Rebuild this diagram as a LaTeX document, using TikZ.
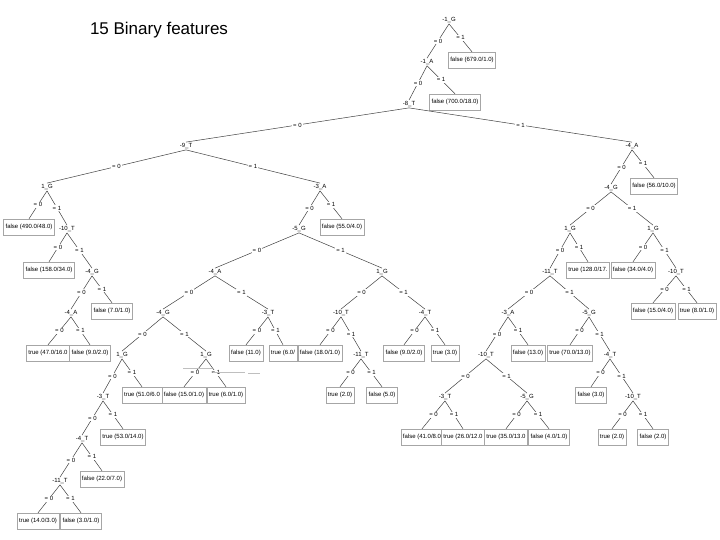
\documentclass[tikz,border=0pt]{standalone}
\usepackage{fontspec}
\setmainfont{Liberation Sans}
\begin{document}
\begin{tikzpicture}[x=1pt,y=-1pt,
  inner/.style={inner sep=1pt,font=\fontsize{6}{7}\selectfont},
  leaf/.style={draw=gray!70,inner xsep=2pt,minimum height=16pt,font=\fontsize{6}{7}\selectfont,fill=white},
  lbl/.style={fill=white,inner sep=1pt,font=\fontsize{6}{7}\selectfont},
  edge/.style={draw=black!75,line width=0.5pt}]
\useasboundingbox (0,0) rectangle (720,540);
\node[font=\fontsize{17}{19}\selectfont] (title) at (159,30) {15 Binary features};
% internal nodes
\node[inner] (a) at (449,20) {-1\_G};
\node[inner] (b) at (427,62) {-1\_A};
\node[inner] (c) at (409,104) {-8\_T};
\node[inner] (d) at (186,146) {-9\_T};
\node[inner] (e) at (632,146) {-4\_A};
\node[inner] (f) at (47,187) {1\_G};
\node[inner] (g) at (320,187) {-3\_A};
\node[inner] (h) at (67,229) {-10\_T};
\node[inner] (i) at (92,272) {-4\_G};
\node[inner] (j) at (71,313) {-4\_A};
\node[inner] (k) at (299,229) {-5\_G};
\node[inner] (l) at (215,272) {-4\_A};
\node[inner] (m) at (382,272) {1\_G};
\node[inner] (n) at (163,313) {-4\_G};
\node[inner] (o) at (268,313) {-3\_T};
\node[inner] (p) at (122,355) {1\_G};
\node[inner] (q) at (206,355) {1\_G};
\node[inner] (r) at (103,397) {-3\_T};
\node[inner] (s) at (82,439) {-4\_T};
\node[inner] (t) at (60,481) {-11\_T};
\node[inner] (u) at (341,313) {-10\_T};
\node[inner] (v) at (425,313) {-4\_T};
\node[inner] (w) at (361,355) {-11\_T};
\node[inner] (x1) at (611,188) {-4\_G};
\node[inner] (y1) at (570,229) {1\_G};
\node[inner] (z1) at (653,229) {1\_G};
\node[inner] (a2) at (550,272) {-11\_T};
\node[inner] (b2) at (676,272) {-10\_T};
\node[inner] (c2) at (508,313) {-3\_A};
\node[inner] (d2) at (589,313) {-5\_G};
\node[inner] (e2) at (486,355) {-10\_T};
\node[inner] (f2) at (610,355) {-4\_T};
\node[inner] (g2) at (445,397) {-3\_T};
\node[inner] (h2) at (527,397) {-5\_G};
\node[inner] (i2) at (633,397) {-10\_T};
% leaves
\node[leaf] (L1) at (472,60) {false (679.0/1.0)};
\node[leaf] (L2) at (455,102) {false (700.0/18.0)};
\node[leaf] (L3) at (654,186) {false (56.0/10.0)};
\node[leaf] (L4) at (29,227) {false (490.0/48.0)};
\node[leaf] (L5) at (342,227) {false (55.0/4.0)};
\node[leaf] (L6) at (49,270) {false (158.0/34.0)};
\node[leaf] (L7) at (112,311) {false (7.0/1.0)};
\node[leaf] (L8) at (48,353) {true (47.0/16.0};
\node[leaf] (L9) at (90,353) {false (9.0/2.0)};
\node[leaf] (L10) at (246,353) {false (11.0)};
\node[leaf] (L11) at (283,353) {true (6.0/};
\node[leaf] (L12) at (320,353) {false (18.0/1.0)};
\node[leaf] (L13) at (404,353) {false (9.0/2.0)};
\node[leaf] (L14) at (445,353) {true (3.0)};
\node[leaf] (L15) at (340,395) {true (2.0)};
\node[leaf] (L16) at (382,395) {false (5.0)};
\node[leaf] (L17) at (142,395) {true (51.0/6.0};
\node[leaf] (L18) at (184,395) {false (15.0/1.0)};
\node[leaf] (L19) at (226,395) {true (6.0/1.0)};
\node[leaf] (L20) at (123,437) {true (53.0/14.0)};
\node[leaf] (L21) at (102,479) {false (22.0/7.0)};
\node[leaf] (L22) at (38,521) {true (14.0/3.0)};
\node[leaf] (L23) at (81,521) {false (3.0/1.0)};
\node[leaf] (L24) at (588,270) {true (128.0/17.};
\node[leaf] (L25) at (633,270) {false (34.0/4.0)};
\node[leaf] (L26) at (653,311) {false (15.0/4.0)};
\node[leaf] (L27) at (697,311) {true (8.0/1.0)};
\node[leaf] (L28) at (528,353) {false (13.0)};
\node[leaf] (L29) at (570,353) {true (70.0/13.0)};
\node[leaf] (L30) at (591,395) {false (3.0)};
\node[leaf] (L31) at (422,437) {false (41.0/8.0};
\node[leaf] (L32) at (463,437) {true (26.0/12.0};
\node[leaf] (L33) at (506,437) {true (35.0/13.0};
\node[leaf] (L34) at (549,437) {false (4.0/1.0)};
\node[leaf] (L35) at (612,437) {true (2.0)};
\node[leaf] (L36) at (653,437) {false (2.0)};
% edges
\newcommand{\br}[4]{\path[edge] (#1.south) -- node[lbl]{= 0} (#2.north); \path[edge] (#1.south) -- node[lbl]{= 1} (#3.north);}
\br{a}{b}{L1}{}
\br{b}{c}{L2}{}
\br{c}{d}{e}{}
\br{e}{x1}{L3}{}
\br{d}{f}{g}{}
\br{f}{L4}{h}{}
\br{h}{L6}{i}{}
\br{i}{j}{L7}{}
\br{j}{L8}{L9}{}
\br{g}{k}{L5}{}
\br{k}{l}{m}{}
\br{l}{n}{o}{}
\br{n}{p}{q}{}
\br{o}{L10}{L11}{}
\br{m}{u}{v}{}
\br{u}{L12}{w}{}
\br{w}{L15}{L16}{}
\br{v}{L13}{L14}{}
\br{p}{r}{L17}{}
\br{q}{L18}{L19}{}
\br{r}{s}{L20}{}
\br{s}{t}{L21}{}
\br{t}{L22}{L23}{}
\br{x1}{y1}{z1}{}
\br{y1}{a2}{L24}{}
\br{z1}{L25}{b2}{}
\br{b2}{L26}{L27}{}
\br{a2}{c2}{d2}{}
\br{c2}{e2}{L28}{}
\br{d2}{L29}{f2}{}
\br{e2}{g2}{h2}{}
\br{g2}{L31}{L32}{}
\br{h2}{L33}{L34}{}
\br{f2}{L30}{i2}{}
\br{i2}{L35}{L36}{}
% stray marks
\draw[gray!50,line width=1pt] (183,368) -- (212,368) (213,372) -- (245,372) (248,373) -- (260,373);
\end{tikzpicture}
\end{document}
